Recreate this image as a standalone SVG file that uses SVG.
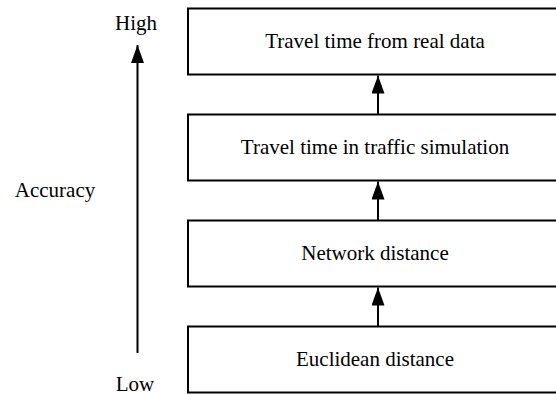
<svg xmlns="http://www.w3.org/2000/svg" width="556" height="395" viewBox="0 0 556 395">
<style>
.box{fill:#fff;stroke:#000;stroke-width:2}
text{font-family:'Liberation Serif','Times New Roman','DejaVu Serif',serif;font-size:21px;fill:#000;text-anchor:middle}
.ln{stroke:#000;stroke-width:2;fill:none}
</style>
<defs>
<marker id="ah" viewBox="0 0 18 13" refX="18" refY="6.5" markerWidth="18" markerHeight="13" markerUnits="userSpaceOnUse" orient="auto">
<path d="M0,0 L18,6.5 L0,13 Z" fill="#000"/>
</marker>
</defs>
<rect width="556" height="395" fill="#fff"/>
<g id="node1"><rect class="box" x="188" y="8.5" width="380" height="66"/><text x="375" y="48" font-family="Liberation Serif, serif">Travel time from real data</text></g>
<g id="node2"><rect class="box" x="188" y="114.5" width="380" height="66"/><text x="375" y="154" font-family="Liberation Serif, serif">Travel time in traffic simulation</text></g>
<g id="node3"><rect class="box" x="188" y="220.5" width="380" height="66"/><text x="375" y="260" font-family="Liberation Serif, serif">Network distance</text></g>
<g id="node4"><rect class="box" x="188" y="326.5" width="380" height="66"/><text x="375" y="366" font-family="Liberation Serif, serif">Euclidean distance</text></g>
<g id="axis">
<text x="136" y="30" font-family="Liberation Serif, serif">High</text>
<text x="135" y="391" font-family="Liberation Serif, serif">Low</text>
<text x="55" y="197" font-family="Liberation Serif, serif">Accuracy</text>
</g>
<g id="connectors">
<path class="ln" d="M137.5,353 V45" marker-end="url(#ah)"/>
<path class="ln" d="M378,114.5 V75.5" marker-end="url(#ah)"/>
<path class="ln" d="M378,220.5 V181.5" marker-end="url(#ah)"/>
<path class="ln" d="M378,326.5 V287.5" marker-end="url(#ah)"/>
</g>
</svg>
